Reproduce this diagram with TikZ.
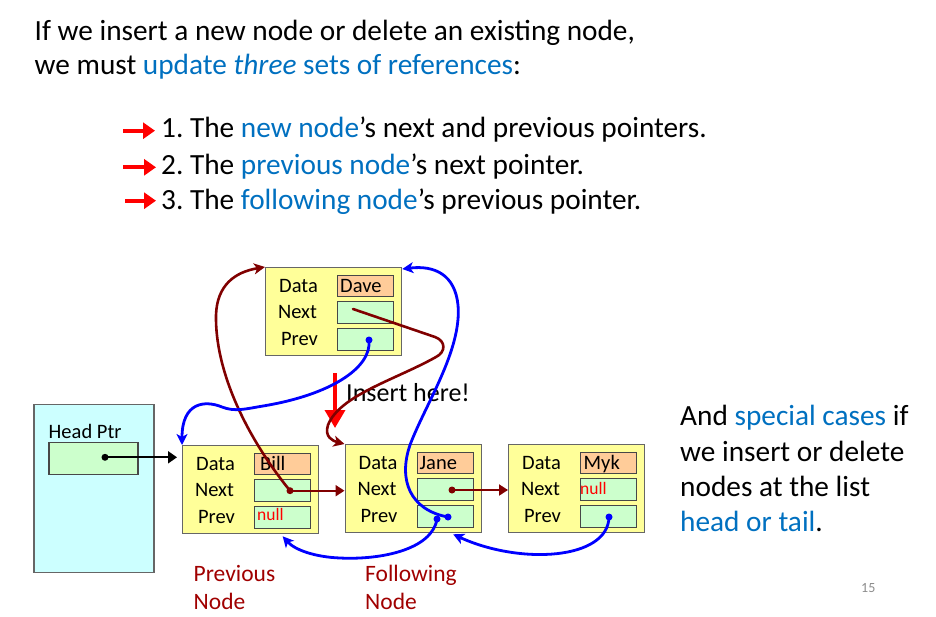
\documentclass[tikz,border=0pt]{standalone}
\usepackage{fontspec}
\setmainfont{Carlito}
\usetikzlibrary{arrows.meta,calc}
\frenchspacing

\definecolor{tblue}{HTML}{0070C0}
\definecolor{ptrred}{HTML}{800000}
\definecolor{lblred}{HTML}{A00000}
\definecolor{boxyellow}{HTML}{FFFF99}
\definecolor{datafill}{HTML}{FFCC99}
\definecolor{ptrfill}{HTML}{CCFFCC}
\definecolor{headfill}{HTML}{CCFFFF}
\definecolor{edgegray}{HTML}{666666}
\definecolor{pagegray}{HTML}{8C8C8C}

\newcommand\fsz[2]{\fontsize{#1}{#2}\selectfont}

\tikzset{
  listbox/.style={draw=edgegray, line width=1.3pt, fill=boxyellow, anchor=north west,
    minimum width=136pt, minimum height=88pt, inner sep=0pt},
  fieldbox/.style={draw=edgegray!70!black, line width=1.2pt, anchor=north west,
    minimum width=56pt, minimum height=21.5pt, inner sep=0pt},
  datafield/.style={fieldbox, fill=datafill},
  ptrfield/.style={fieldbox, fill=ptrfill},
  lbl/.style={anchor=base, inner sep=0pt, font=\fsz{20.5}{24}},
  val/.style={anchor=base west, inner sep=0pt, font=\fsz{20.5}{24}},
  nullval/.style={anchor=base west, inner sep=0pt, text=red, font=\fsz{17.5}{20}},
  bigtxt/.style={anchor=base west, inner sep=0pt, font=\fsz{29.3}{34}},
  roletxt/.style={anchor=base west, inner sep=0pt, text=lblred, font=\fsz{23.5}{28}},
  redcurve/.style={draw=ptrred, line width=2.6pt, line cap=round,
    -{Stealth[length=11pt,width=11pt,inset=3pt]}},
  bluecurve/.style={draw=blue, line width=2.8pt, line cap=round,
    -{Stealth[length=11pt,width=11pt,inset=3pt]}},
  redptr/.style={draw=ptrred, line width=2pt, -{Triangle[length=9pt,width=11pt]}},
  blackptr/.style={draw=black, line width=2pt, -{Triangle[length=9pt,width=12pt]}},
  bullet/.style={draw=red, line width=4pt, -{Triangle[length=12pt,width=16pt]}},
}

% one doubly linked list node: name, top-left x, top-left y
\newcommand\dllnode[3]{%
  \node[listbox] (#1) at (#2,#3) {};
  \node[datafield] (#1-d) at (#2+72,#3+7.5) {};
  \node[ptrfield] (#1-n) at (#2+72,#3+34) {};
  \node[ptrfield] (#1-p) at (#2+72,#3+61) {};
  \node[lbl] (#1-ld) at (#2+33.5,#3+25) {Data};
  \node[lbl] (#1-ln) at (#2+32.5,#3+51.7) {Next};
  \node[lbl] (#1-lp) at (#2+34.5,#3+78.3) {Prev};
}

\begin{document}
\begin{tikzpicture}[x=1pt,y=-1pt]
\useasboundingbox (0,0) rectangle (936,616);

% heading
\node[bigtxt] (t1) at (34.5,40.7) {If we insert a new node or delete an existing node,};
\node[bigtxt] (t2) at (34.5,74) {we must \textcolor{tblue}{update \textit{three} sets of references}:};

% numbered list with red arrows
\node[bigtxt] (b1) at (161,137.3) {1. The \textcolor{tblue}{new node}’s next and previous pointers.};
\node[bigtxt] (b2) at (161,174) {2. The \textcolor{tblue}{previous node}’s next pointer.};
\node[bigtxt] (b3) at (161,209) {3. The \textcolor{tblue}{following node}’s previous pointer.};
\coordinate (a1) at (123,130.7);
\coordinate (a2) at (123,167.3);
\coordinate (a3) at (125,200.7);
\draw[bullet] (a1) -- ++(32,0);
\draw[bullet] (a2) -- ++(33,0);
\draw[bullet] (a3) -- ++(31,0);

% side note
\node[bigtxt] (s1) at (680,425) {And \textcolor{tblue}{special cases} if};
\node[bigtxt] (s2) at (680,461) {we insert or delete};
\node[bigtxt] (s3) at (680,496) {nodes at the list};
\node[bigtxt] (s4) at (680,531) {\textcolor{tblue}{head or tail}.};

% page number
\node[anchor=base west, inner sep=0pt, text=pagegray, font=\fsz{14}{16}] (pg) at (861,592.7) {15};

% head pointer block
\node[draw=edgegray, line width=1.3pt, fill=headfill, anchor=north west,
  minimum width=120pt, minimum height=168pt, inner sep=0pt] (head) at (33.3,404) {};
\node[ptrfield, minimum width=89pt, minimum height=32.3pt] (headfield) at (48.3,441.7) {};
\node[val] (headlbl) at (48.5,438.3) {Head Ptr};

% list nodes
\dllnode{dave}{265}{267}
\dllnode{bill}{182}{445}
\dllnode{jane}{344.5}{444}
\dllnode{myk}{508}{444}

\node[val] (daveval) at (340,292) {Dave};
\node[val] (billval) at (260,470) {Bill};
\node[val] (janeval) at (419.5,469) {Jane};
\node[val] (mykval) at (583.5,469) {Myk};
\node[nullval] (billnull) at (257,520.7) {null};
\node[nullval] (myknull) at (580,494) {null};

% captions
\node[roletxt] (prevA) at (193.5,581.7) {Previous};
\node[roletxt] (prevB) at (193.5,609.5) {Node};
\node[roletxt] (follA) at (365,581.7) {Following};
\node[roletxt] (follB) at (365,609.5) {Node};

% insertion marker
\node[anchor=base west, inner sep=0pt, font=\fsz{26}{30}] (ins) at (346,401.7) {Insert here!};
\coordinate (instop) at (335,373);
\coordinate (insbot) at (335,428);
\draw[draw=red, line width=3.6pt, -{Triangle[length=18pt,width=20pt]}] (instop) -- (insbot);

% pointer origins
\coordinate (headdot) at (105,457.3);
\coordinate (billnext) at (290,490.7);
\coordinate (janenext) at (452,490);
\coordinate (davenext) at (353,309);
\coordinate (daveprev) at (369,340);
\coordinate (janeprevA) at (448,517);
\coordinate (janeprevB) at (437,519);
\coordinate (mykprev) at (609,517);

% straight next pointers
\draw[blackptr, shorten >=5pt] (headdot) -- (headdot -| bill.west);
\draw[redptr] (billnext) -- (billnext -| jane.west);
\draw[redptr] (janenext) -- (janenext -| myk.west);

% new links for the inserted node
\draw[redcurve] (billnext) .. controls (245,435) and (215,370) .. (216,315)
  .. controls (217,285) and (235,272) .. (dave.north west);
\draw[redcurve] (davenext) -- (435,337) .. controls (446,341) and (446,352) .. (436,357)
  .. controls (395,380) and (340,395) .. (328,425)
  .. controls (324,437) and (333,441) .. (jane.north west);
\draw[bluecurve] (daveprev) .. controls (372,368) and (330,395) .. (263,406)
  .. controls (245,409) and (235,412) .. (222,407)
  .. controls (205,400) and (182,402) .. (bill.north west);
\draw[bluecurve] (janeprevA) .. controls (410,510) and (398,480) .. (410,445)
  .. controls (425,405) and (462,350) .. (458,305)
  .. controls (455,275) and (435,265) .. ([yshift=-2pt]dave.north east);
\draw[bluecurve] (janeprevB) .. controls (432,550) and (380,560) .. (340,558)
  .. controls (315,557) and (295,550) .. ([xshift=32pt,yshift=-2pt]bill.south);
\draw[bluecurve] (mykprev) .. controls (608,560) and (520,565) .. ([xshift=40pt,yshift=-1pt]jane.south);

% pointer dots
\fill (headdot) circle (3.5pt);
\fill[ptrred] (billnext) circle (3.5pt);
\fill[ptrred] (janenext) circle (3.5pt);
\fill[blue] (daveprev) circle (3.5pt);
\fill[blue] (janeprevA) circle (3.5pt);
\fill[blue] (janeprevB) circle (3.5pt);
\fill[blue] (mykprev) circle (3.5pt);
\end{tikzpicture}
\end{document}
